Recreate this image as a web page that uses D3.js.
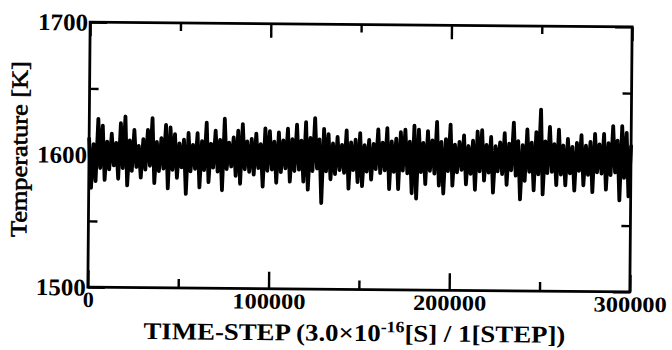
<!DOCTYPE html>
<html><head><meta charset="utf-8">
<script src="https://cdn.jsdelivr.net/npm/d3@7"></script>
<style>body{margin:0;background:#fff;} svg{display:block;background:#fff}</style>
</head><body><div id="chart"></div>
<script>
// ---- data ----
const stepSize = 1250; // time-steps between samples
const temperature = [
  1612,1575, 1608,1580, 1627,1590, 1622,1581, 1610,1589,
  1616,1592, 1609,1582, 1624,1590, 1629,1577, 1611,1588,
  1619,1591, 1607,1583, 1612,1589, 1619,1592, 1628,1579,
  1610,1588, 1613,1590, 1623,1575, 1621,1589, 1616,1583,
  1609,1591, 1612,1571, 1617,1588, 1608,1590, 1617,1576,
  1611,1589, 1625,1580, 1609,1591, 1619,1588, 1612,1574,
  1628,1590, 1610,1592, 1614,1585, 1619,1579, 1624,1590,
  1611,1588, 1613,1586, 1617,1591, 1609,1577, 1621,1589,
  1619,1590, 1611,1580, 1618,1588, 1612,1591, 1621,1581,
  1613,1589, 1624,1590, 1612,1581, 1626,1575, 1614,1589,
  1629,1591, 1613,1565, 1621,1589, 1617,1583, 1610,1587,
  1615,1590, 1609,1588, 1620,1576, 1611,1590, 1613,1581,
  1618,1578, 1609,1589, 1613,1583, 1610,1591, 1621,1588,
  1611,1590, 1622,1576, 1612,1589, 1614,1576, 1619,1590,
  1621,1588, 1612,1573, 1624,1569, 1621,1589, 1611,1580,
  1620,1590, 1613,1588, 1627,1579, 1612,1573, 1614,1590,
  1625,1579, 1610,1589, 1612,1591, 1617,1580, 1609,1588,
  1613,1576, 1620,1590, 1621,1583, 1610,1589, 1616,1574,
  1609,1590, 1612,1588, 1619,1580, 1611,1591, 1627,1587,
  1613,1569, 1610,1583, 1622,1590, 1612,1576, 1620,1588,
  1637,1573, 1613,1589, 1624,1590, 1611,1580, 1622,1588,
  1610,1580, 1615,1589, 1609,1576, 1612,1591, 1618,1580,
  1610,1588, 1613,1575, 1619,1590, 1611,1589, 1619,1577,
  1612,1588, 1625,1590, 1614,1569, 1625,1586, 1620,1572,
  1610
];
const xTickMajor = [0, 100000, 200000, 300000];
const xTickMinor = [50000, 150000, 250000];
const yTickMajor = [1500, 1600, 1700];
const yTickMinor = [1550, 1650];
const yTitle = "Temperature [K]";
const xTitleParts = ["TIME-STEP (3.0\u00D710", "-16", "[S] / 1[STEP])"];

// ---- drawing ----
const W = 672, H = 350;
const x = d3.scaleLinear().domain([0, 300000]).range([89, 631]);
const y = d3.scaleLinear().domain([1500, 1700]).range([289.5, 24.5]);

const svg = d3.select("#chart").append("svg").attr("width", W).attr("height", H);
const g = svg.append("g").attr("transform", "rotate(0.5,360,157)");

// data trace
const line = d3.line().x((d, i) => x(i * stepSize)).y(d => y(d));
g.append("path").datum(temperature)
  .attr("d", line).attr("fill", "none").attr("stroke", "#000")
  .attr("stroke-width", 3.8).attr("stroke-linejoin", "round").attr("stroke-linecap", "round");

// frame
g.append("rect")
  .attr("x", x(0)).attr("y", y(1700))
  .attr("width", x(300000) - x(0)).attr("height", y(1500) - y(1700))
  .attr("fill", "none").attr("stroke", "#000").attr("stroke-width", 2.8);

const noLabel = () => "";
function ticks(gen, tr, vals, size) {
  const a = g.append("g").attr("transform", tr)
    .call(gen.tickValues(vals).tickSize(size).tickFormat(noLabel));
  a.select(".domain").remove();
  a.selectAll("line").attr("stroke", "#000").attr("stroke-width", 2.4);
  a.selectAll("text").remove();
}
ticks(d3.axisBottom(x), `translate(0,${y(1500)})`, xTickMajor, -17);
ticks(d3.axisBottom(x), `translate(0,${y(1500)})`, xTickMinor, -9);
ticks(d3.axisTop(x), `translate(0,${y(1700)})`, xTickMajor, -14);
ticks(d3.axisTop(x), `translate(0,${y(1700)})`, xTickMinor, -8);
ticks(d3.axisLeft(y), `translate(${x(0)},0)`, yTickMajor, -17);
ticks(d3.axisLeft(y), `translate(${x(0)},0)`, yTickMinor, -9);
ticks(d3.axisRight(y), `translate(${x(300000)},0)`, yTickMajor, -17);
ticks(d3.axisRight(y), `translate(${x(300000)},0)`, yTickMinor, -9);

const font = "'Liberation Serif','Times New Roman',serif";

// x tick labels
const xl = g.append("g").attr("transform", `translate(0,${y(1500)})`)
  .call(d3.axisBottom(x).tickValues(xTickMajor).tickSize(0).tickFormat(d3.format("d")));
xl.select(".domain").remove();
xl.selectAll("text")
  .attr("y", 20).attr("dy", null)
  .attr("fill", "#000")
  .style("font-family", font).style("font-size", "22px").style("font-weight", "bold")
  .each(function(d) {
    const s = String(d).length;
    if (s > 1) d3.select(this).attr("textLength", s * 12.2).attr("lengthAdjust", "spacingAndGlyphs");
  });

// y tick labels
const yl = g.append("g").attr("transform", `translate(${x(0)},0)`)
  .call(d3.axisLeft(y).tickValues(yTickMajor).tickSize(0).tickFormat(d3.format("d")));
yl.select(".domain").remove();
yl.selectAll("text")
  .attr("x", -2).attr("dy", "0.33em")
  .attr("fill", "#000")
  .attr("textLength", 50).attr("lengthAdjust", "spacingAndGlyphs")
  .style("font-family", font).style("font-size", "24px").style("font-weight", "bold");

// y title
g.append("text")
  .attr("transform", "translate(27,152) rotate(-90)")
  .attr("text-anchor", "middle")
  .attr("textLength", 176).attr("lengthAdjust", "spacingAndGlyphs")
  .attr("fill", "#000").attr("stroke", "#000").attr("stroke-width", 0.6)
  .style("font-family", font).style("font-size", "23px")
  .text(yTitle);

// x title
const xt = g.append("text")
  .attr("x", 145).attr("y", 341)
  .attr("fill", "#000")
  .style("font-family", font).style("font-size", "24px").style("font-weight", "bold");
xt.append("tspan").text(xTitleParts[0]);
xt.append("tspan").attr("dy", -9).style("font-size", "16px").text(xTitleParts[1]);
xt.append("tspan").attr("dy", 9).text(xTitleParts[2]);
const natural = xt.node().getComputedTextLength();
const sx = 422 / natural;
xt.attr("transform", `translate(145,0) scale(${sx},1) translate(-145,0)`);
</script>
</body></html>
